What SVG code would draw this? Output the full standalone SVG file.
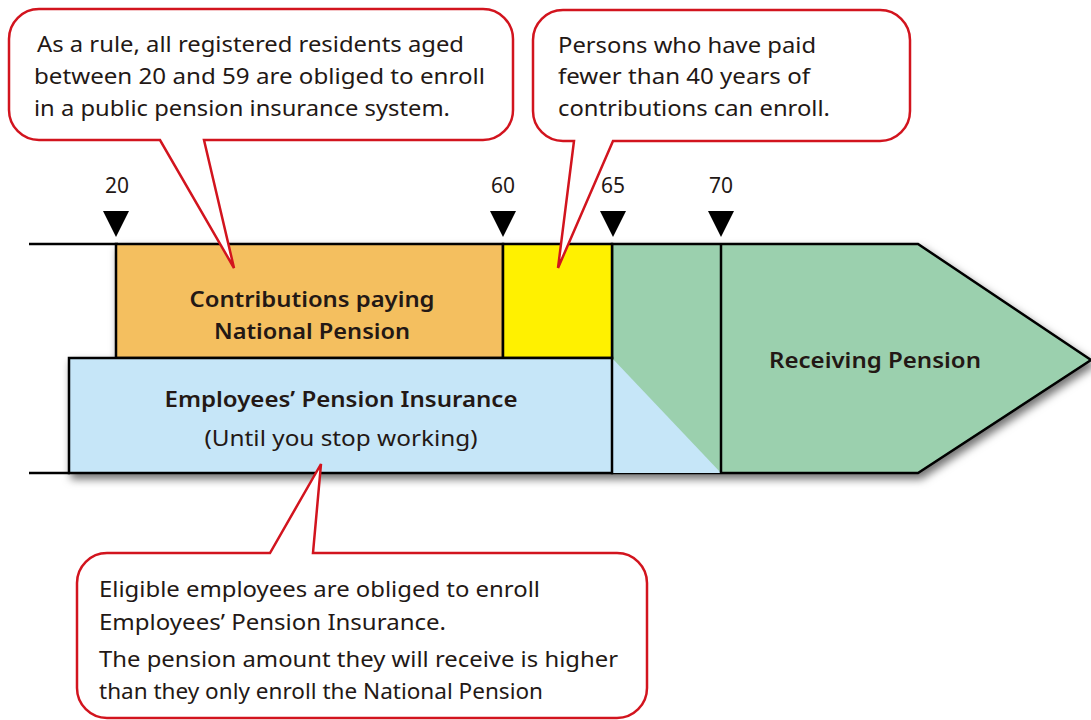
<svg xmlns="http://www.w3.org/2000/svg" width="1091" height="720" viewBox="0 0 1091 720">
<defs>
<style>
.t{font-family:"Noto Sans","Liberation Sans",sans-serif;fill:#231815;}
.c{font-size:22.5px;}
.b{font-size:22px;font-weight:600;text-anchor:middle;}
.n{font-size:21px;text-anchor:middle;}
.m{font-size:22px;text-anchor:middle;}
.bar{stroke:#000;stroke-width:2.5;stroke-linejoin:miter;}
.co{fill:#fff;stroke:#D2141E;stroke-width:2.5;stroke-linejoin:miter;}
.tri{fill:#000;}
</style>
<filter id="sh" x="-5%" y="-10%" width="115%" height="130%">
<feDropShadow dx="3" dy="5" stdDeviation="4" flood-color="#000" flood-opacity="0.55"/>
</filter>
</defs>
<rect width="1091" height="720" fill="#fff"/>

<g id="timeline">
<line x1="29" y1="244" x2="118" y2="244" stroke="#000" stroke-width="2.5"/>
<line x1="29" y1="473" x2="70" y2="473" stroke="#000" stroke-width="2.5"/>
<g filter="url(#sh)">
<path id="receiving" class="bar" d="M612,244 H918 L1091,360 L918,473 H612 Z" fill="#9BD0AE"/>
<path d="M612,358 L721,473 H612 Z" fill="#C6E6F8"/>
<line x1="721" y1="244" x2="721" y2="473" stroke="#000" stroke-width="2.5"/>
<rect id="national" class="bar" x="116" y="244" width="387" height="114" fill="#F4BF5F"/>
<rect id="voluntary" class="bar" x="503" y="244" width="109" height="114" fill="#FFF100"/>
<rect id="employees" class="bar" x="69" y="358" width="543" height="115" fill="#C6E6F8"/>
</g>
</g>

<g id="markers">
<text class="t n" x="117" y="193">20</text>
<text class="t n" x="503" y="193">60</text>
<text class="t n" x="613" y="193">65</text>
<text class="t n" x="721" y="193">70</text>
<path class="tri" d="M103,211 H129 L116,237 Z"/>
<path class="tri" d="M490,211 H516 L503,237 Z"/>
<path class="tri" d="M600,211 H626 L613,237 Z"/>
<path class="tri" d="M708,211 H734 L721,237 Z"/>
</g>

<g id="labels">
<text class="t b" x="312" y="307" textLength="245" lengthAdjust="spacingAndGlyphs">Contributions paying</text>
<text class="t b" x="312" y="339" textLength="196" lengthAdjust="spacingAndGlyphs">National Pension</text>
<text class="t b" x="341" y="407" textLength="353" lengthAdjust="spacingAndGlyphs">Employees’ Pension Insurance</text>
<text class="t m" x="341" y="446" textLength="273" lengthAdjust="spacingAndGlyphs">(Until you stop working)</text>
<text class="t b" x="875" y="368" textLength="212" lengthAdjust="spacingAndGlyphs">Receiving Pension</text>
</g>

<g id="connectors">
<g id="callout-1">
<path class="co" d="M39,9 H483 A30,30 0 0 1 513,39 V110 A30,30 0 0 1 483,140 H204 L234,268 L160,140 H39 A30,30 0 0 1 9,110 V39 A30,30 0 0 1 39,9 Z"/>
<text class="t c" x="37" y="52" textLength="427" lengthAdjust="spacingAndGlyphs">As a rule, all registered residents aged</text>
<text class="t c" x="34" y="84" textLength="451" lengthAdjust="spacingAndGlyphs">between 20 and 59 are obliged to enroll</text>
<text class="t c" x="34" y="116" textLength="416" lengthAdjust="spacingAndGlyphs">in a public pension insurance system.</text>
</g>
<g id="callout-2">
<path class="co" d="M563,10 H880 A30,30 0 0 1 910,40 V111 A30,30 0 0 1 880,141 H613 L558,268 L574,141 H563 A30,30 0 0 1 533,111 V40 A30,30 0 0 1 563,10 Z"/>
<text class="t c" x="558" y="53" textLength="258" lengthAdjust="spacingAndGlyphs">Persons who have paid</text>
<text class="t c" x="558" y="84" textLength="252" lengthAdjust="spacingAndGlyphs">fewer than 40 years of</text>
<text class="t c" x="558" y="116" textLength="272" lengthAdjust="spacingAndGlyphs">contributions can enroll.</text>
</g>
<g id="callout-3">
<path class="co" d="M107,553 H270 L321,464 L313,553 H617 A30,30 0 0 1 647,583 V688 A30,30 0 0 1 617,718 H107 A30,30 0 0 1 77,688 V583 A30,30 0 0 1 107,553 Z"/>
<text class="t c" x="99" y="597" textLength="441" lengthAdjust="spacingAndGlyphs">Eligible employees are obliged to enroll</text>
<text class="t c" x="99" y="630" textLength="347" lengthAdjust="spacingAndGlyphs">Employees’ Pension Insurance.</text>
<text class="t c" x="99" y="667" textLength="519" lengthAdjust="spacingAndGlyphs">The pension amount they will receive is higher</text>
<text class="t c" x="99" y="699" textLength="444" lengthAdjust="spacingAndGlyphs">than they only enroll the National Pension</text>
</g>
</g>
</svg>
